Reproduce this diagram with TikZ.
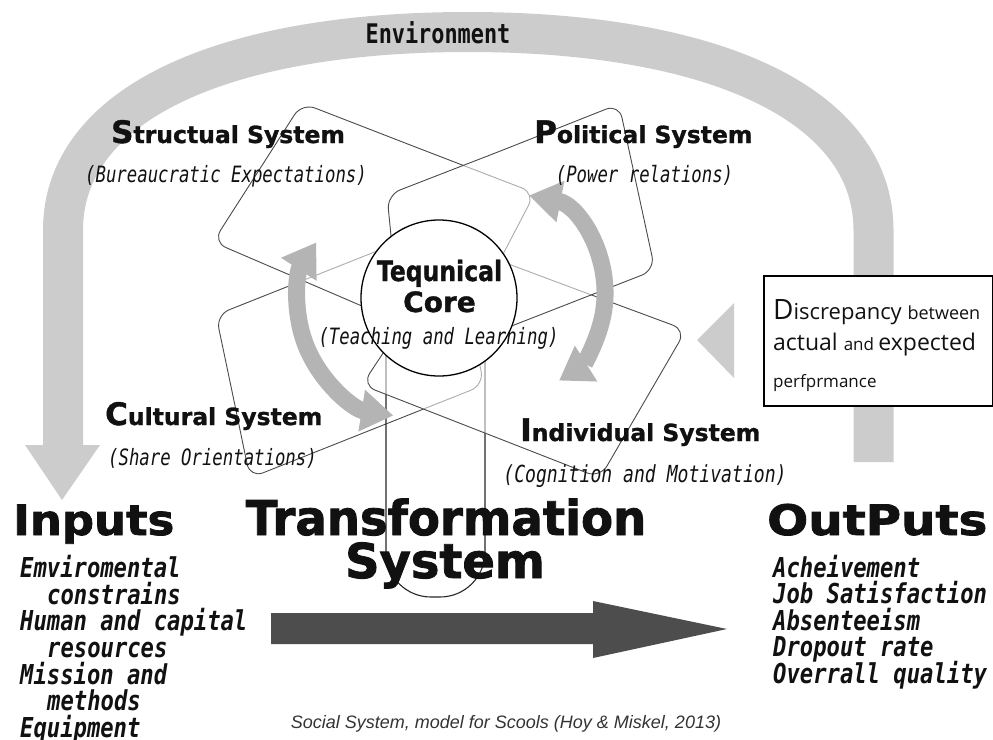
\documentclass[tikz,border=0pt]{standalone}
\usepackage{fontspec}
\usepackage{graphicx}
\usetikzlibrary{arrows.meta}
\setmainfont{DejaVu Sans}
\newfontfamily\headfont[BoldFeatures={FakeBold=1.2}]{DejaVu Sans}
\newfontfamily\titlefont[BoldFeatures={FakeBold=1.8}]{DejaVu Sans}
\newfontfamily\monofont[FakeStretch=0.77]{DejaVu Sans Mono}
\newfontfamily\listfont[FakeStretch=0.81]{DejaVu Sans Mono}
\newfontfamily\boxfont{Open Sans}
\newfontfamily\capfont{Liberation Sans}

\definecolor{envgray}{HTML}{CCCCCC}
\definecolor{arrowgray}{HTML}{B4B4B4}
\definecolor{framegray}{HTML}{4A4A4A}
\definecolor{darkarrow}{HTML}{4D4D4D}
\definecolor{captiongray}{HTML}{333333}
\definecolor{ink}{HTML}{111111}

\tikzset{
  sysframe/.style={draw=framegray, line width=0.9pt, rounded corners=14pt},
  veil/.style={fill=white, fill opacity=0.55},
  heading/.style={anchor=base west, inner sep=0, text=ink,
    font=\headfont\bfseries\fontsize{23.5}{26}\selectfont},
  subtitle/.style={anchor=base, inner sep=0, text=ink,
    font=\monofont\itshape\fontsize{22.5}{24}\selectfont},
  listtext/.style={anchor=base west, inner sep=0, text=ink,
    font=\listfont\bfseries\itshape\fontsize{27.4}{30}\selectfont},
  bigtitle/.style={inner sep=0, text=ink, font=\titlefont\bfseries\fontsize{42}{44}\selectfont},
  cycarrow/.style={line width=17pt, draw=arrowgray,
    {Triangle[length=32pt,width=40pt]}-{Triangle[length=32pt,width=40pt]}},
  boxtext/.style={anchor=base west, inner sep=0, text=ink, font=\boxfont\fontsize{18}{22}\selectfont},
}
\newcommand{\bigini}[1]{{\fontsize{31}{32}\selectfont #1}}

\begin{document}
\begin{tikzpicture}[x=1pt,y=-1pt]
\useasboundingbox (0,0) rectangle (993,739);

% environment feedback band with its arrow head
\draw[line width=40pt, envgray] (63,446) -- (63,230)
  .. controls (63,107) and (217,32) .. (468,32)
  .. controls (719,32) and (873.5,107) .. (873.5,230) -- (873.5,462);
\fill[envgray] (25,445) -- (100,445) -- (62,500) -- cycle;
\node[anchor=base, inner sep=0, text=ink,
  font=\listfont\bfseries\fontsize{27}{30}\selectfont] (env) at (438,43) {Environment};

% subsystem frames
\draw[sysframe] (233,396) -- (250,478) -- (484,385) -- (450,222) -- (216,315) -- cycle;   % cultural
\draw[sysframe, draw=black!85, line width=1.1pt, rounded corners=45pt] (386,340) -- (386,597) -- (485,597) -- (485,340); % transformation
\draw[sysframe, veil] (418,148) -- (535,193) -- (455,346) -- (213,242) -- (302,103) -- cycle; % structural
\draw[sysframe, veil] (570,287) -- (686,330) -- (600,478) -- (362,385) -- (455,244) -- cycle; % individual
\draw[sysframe, veil] (503,150) -- (619,104) -- (655,270) -- (404,368) -- (387,195) -- cycle; % political

% technical core
\node[circle, draw=black, line width=1.3pt, fill=white, minimum size=156pt, inner sep=0] (core) at (439,298) {};

% cycling arrows around the core
\draw[cycarrow] (411,304) ++(99:113) arc[start angle=99, end angle=213, radius=113];
\draw[cycarrow] (513,294) ++(-80:92 and 100) arc[start angle=-80, end angle=60, x radius=92, y radius=100];

% core labels
\node[anchor=base, inner sep=0, text=ink, font=\headfont\bfseries\fontsize{28}{30}\selectfont]
  (coreA) at (439.5,281) {\scalebox{0.84}[1]{Tequnical}};
\node[anchor=base, inner sep=0, text=ink, font=\headfont\bfseries\fontsize{28}{30}\selectfont]
  (coreB) at (439.5,312) {Core};
\node[subtitle] (coreC) at (438.5,344) {(Teaching and Learning)};

% subsystem labels
\node[heading] (structural) at (111,143) {\bigini{S}tructual System};
\node[subtitle] (structuralsub) at (226,182) {(Bureaucratic Expectations)};
\node[heading] (political) at (534,143) {\bigini{P}olitical System};
\node[subtitle] (politicalsub) at (644.5,182) {(Power relations)};
\node[heading] (cultural) at (105,425) {\bigini{C}ultural System};
\node[subtitle] (culturalsub) at (212.5,465) {(Share Orientations)};
\node[heading] (individual) at (520,441) {\bigini{I}ndividual System};
\node[subtitle, font=\monofont\itshape\fontsize{23.5}{24}\selectfont] (individualsub) at (645,482) {(Cognition and Motivation)};

% discrepancy feedback
\fill[envgray] (697,340) -- (734,303) -- (734,378) -- cycle;
\node[draw=black, line width=1.5pt, fill=white, minimum width=229pt, minimum height=130pt,
  anchor=north west, inner sep=0] (gap) at (763,275) {};
\node[boxtext] (gapA) at (773,319) {{\fontsize{28}{28}\selectfont D}{\fontsize{22}{24}\selectfont iscrepancy\ }{\fontsize{18}{20}\selectfont between}};
\node[boxtext] (gapB) at (773,350) {{\fontsize{23}{26}\selectfont actual\ }{\fontsize{17}{20}\selectfont and\ }{\fontsize{23}{26}\selectfont expected}};
\node[boxtext] (gapC) at (773,387) {{\fontsize{17}{20}\selectfont perfprmance}};

% main titles
\node[bigtitle, anchor=base west] (inputs) at (13,535) {\scalebox{1.07}[1]{Inputs}};
\node[bigtitle, anchor=base west] (outputs) at (767,535) {\scalebox{1.15}[1]{OutPuts}};
\node[bigtitle, anchor=base, font=\titlefont\bfseries\fontsize{48}{50}\selectfont] (transA) at (446,535) {\scalebox{0.97}[1]{Transformation}};
\node[bigtitle, anchor=base, font=\titlefont\bfseries\fontsize{48}{50}\selectfont] (transB) at (445,578) {System};

% throughput arrow
\fill[darkarrow] (271,613) -- (593,613) -- (593,601) -- (727,629) -- (593,658) -- (593,644) -- (271,644) -- cycle;

% input list
\node[listtext] (in1) at (20,577) {Emviromental};
\node[listtext] (in2) at (47,604) {constrains};
\node[listtext] (in3) at (20,630.5) {Human and capital};
\node[listtext] (in4) at (47,657) {resources};
\node[listtext] (in5) at (20,684) {Mission and};
\node[listtext] (in6) at (47,710.5) {methods};
\node[listtext] (in7) at (20,737) {Equipment};

% output list
\node[listtext] (out1) at (773,577) {Acheivement};
\node[listtext] (out2) at (773,603.5) {Job Satisfaction};
\node[listtext] (out3) at (773,630) {Absenteeism};
\node[listtext] (out4) at (773,656.5) {Dropout rate};
\node[listtext] (out5) at (773,683) {Overrall quality};

% caption
\node[anchor=base, inner sep=0, text=captiongray, font=\capfont\itshape\fontsize{18}{20}\selectfont]
  (caption) at (506,728) {Social System, model for Scools (Hoy \& Miskel, 2013)};
\end{tikzpicture}
\end{document}
